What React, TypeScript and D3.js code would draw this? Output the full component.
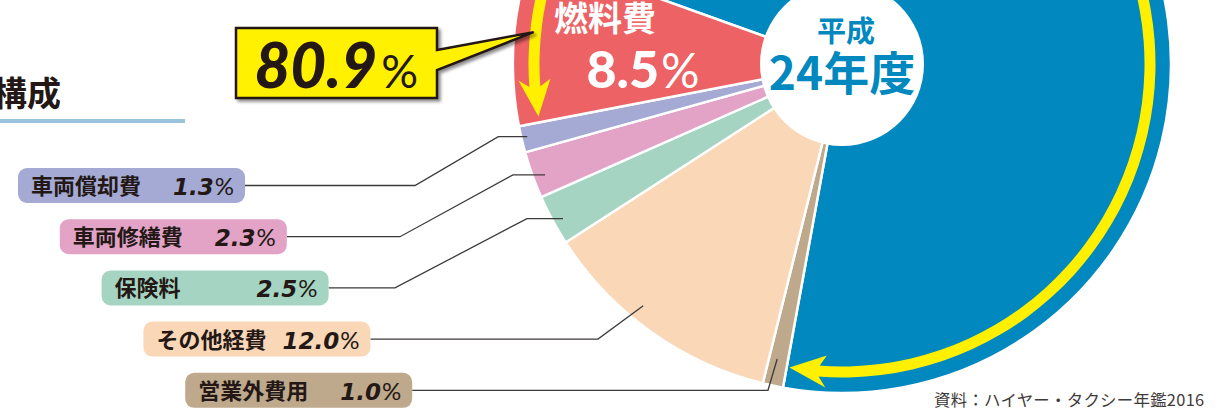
import React from 'react';
import * as d3 from 'd3';

// ---- data ----
const categories = ['人件費', '営業外費用', 'その他経費', '保険料', '車両修繕費', '車両償却費', '燃料費'];
const values = [72.4, 1.0, 12.0, 2.5, 2.3, 1.3, 8.5];
const colors = ['#0088bf', '#bea98c', '#f9d7b7', '#a5d5c2', '#e2a3c6', '#a4aad4', '#ec6265'];
const labelCategories = ['車両償却費', '車両修繕費', '保険料', 'その他経費', '営業外費用'];
const highlightCategories = ['人件費', '燃料費'];
const yearLine1 = '平成';
const yearLine2 = '24年度';
const titleText = '構成';
const sourceText = '資料：ハイヤー・タクシー年鑑2016';

// ---- layout ----
const W = 1226, H = 412;
const cx = 842, cy = 64, R = 329, holeR = 82;
const startDeg = -70.3;
const CJK = "'Noto Sans CJK JP', 'Noto Sans', sans-serif";
const NUM = "'Lato', 'Noto Sans', sans-serif";
const NUM2 = "'DejaVu Sans', 'Noto Sans', sans-serif";
const rad = (d: number) => (d * Math.PI) / 180;
const toXY = (r: number, a: number): [number, number] => [cx + r * Math.sin(a), cy - r * Math.cos(a)];

const box0 = { x: 18, y: 168, dx: 41.8, dy: 51.2, w: 227, h: 35 };
const leaderEndR = [323, 317, 319, 313, 302];
const leaderFrac = [0.55, 0.41, 0.43, 0.59, 0.57];
const leaderElbow1 = [415, 400, 395, 598, 768];
const leaderTail = [29, 32, 36, 0, 0];

export default function App() {
  const pie = d3
    .pie<number>()
    .sort(null)
    .value((d) => d)
    .startAngle(rad(startDeg))
    .endAngle(rad(startDeg) + 2 * Math.PI);
  const arcs = pie(values);
  const arcGen = d3.arc<d3.PieArcDatum<number>>().innerRadius(0).outerRadius(R);

  // arrow spanning the highlighted categories (燃料費 + 人件費)
  const redArc = arcs[categories.indexOf('燃料費')];
  const blueArc = arcs[categories.indexOf('人件費')];
  const hlTotal = highlightCategories.reduce((s, c) => s + values[categories.indexOf(c)], 0);
  const r0 = 308, sw = 5.5, L = 37, Wd = 16, notch = 7;
  const redTip = redArc.startAngle + rad(1.1);
  const blueTip = blueArc.endAngle + 2 * Math.PI - rad(0.5);
  const head = (tipA: number, dir: number) => {
    const aBase = tipA + (dir * L) / r0;
    const aNotch = tipA + (dir * (L - notch)) / r0;
    const pts = [
      toXY(r0, tipA),
      toXY(r0 + Wd, aBase),
      toXY(r0 + sw, aNotch),
      toXY(r0 - sw, aNotch),
      toXY(r0 - Wd, aBase),
    ];
    return 'M' + pts.map((p) => p.join(',')).join('L') + 'Z';
  };
  const shaft = d3.arc()({
    innerRadius: r0 - sw,
    outerRadius: r0 + sw,
    startAngle: redTip + (L - notch) / r0 - 0.003,
    endAngle: blueTip - (L - notch) / r0 + 0.003,
  } as any) as string;

  const calloutTip = toXY(310, rad(275.9));

  return (
    <svg width={W} height={H} style={{ position: 'absolute', left: 0, top: 0, display: 'block', background: '#fff' }}>
      <defs>
        <filter id="sh" x="-10%" y="-10%" width="130%" height="140%">
          <feDropShadow dx="2.5" dy="2.5" stdDeviation="1.5" floodColor="#000" floodOpacity="0.45" />
        </filter>
      </defs>

      {/* title */}
      <text x={61} y={106} textAnchor="end" fontFamily={CJK} fontWeight={700} fontSize={34} fill="#231815">
        {titleText}
      </text>
      <rect x={0} y={119} width={185} height={4} fill="#9bc3dc" />

      {/* pie */}
      <g transform={`translate(${cx},${cy})`}>
        {arcs.map((a, i) => (
          <path key={categories[i]} d={arcGen(a) as string} fill={colors[i]} stroke="#fff" strokeWidth={2.5} strokeLinejoin="round" />
        ))}
        <circle r={holeR} fill="#fff" />
        <path d={shaft} fill="#fff000" />
      </g>
      <path d={head(redTip, 1)} fill="#fff000" />
      <path d={head(blueTip, -1)} fill="#fff000" />

      {/* year label in hole */}
      <text x={846} y={42} textAnchor="middle" fontFamily={CJK} fontWeight={700} fontSize={29} fill="#0088bf">
        {yearLine1}
      </text>
      <text x={842} y={90} textAnchor="middle" fontFamily={CJK} fontWeight={700} fontSize={46} fill="#0088bf">
        {yearLine2}
      </text>

      {/* fuel label */}
      <text x={605} y={31} textAnchor="middle" fontFamily={CJK} fontWeight={700} fontSize={34} fill="#fff">
        {categories[6]}
      </text>
      <text x={643} y={88} textAnchor="middle" fontFamily={NUM} fill="#fff">
        <tspan fontWeight={900} fontSize={52}>{values[6].toFixed(1)}</tspan>
        <tspan dx={2} fontWeight={400} fontSize={48}>%</tspan>
      </text>

      {/* callout */}
      <path
        d={`M236,28H437V50L${calloutTip[0]},${calloutTip[1]}L437,70V98H236Z`}
        fill="#fff100"
        stroke="#231815"
        strokeWidth={2.5}
        strokeLinejoin="miter"
        filter="url(#sh)"
      />
      <text x={418} y={88} textAnchor="end" fontFamily={NUM} fill="#231815">
        <tspan fontWeight={900} fontStyle="italic" fontSize={62}>{hlTotal.toFixed(1)}</tspan>
        <tspan dx={4} fontWeight={400} fontSize={46}>%</tspan>
      </text>

      {/* labels + leaders */}
      {labelCategories.map((c, j) => {
        const i = categories.indexOf(c);
        const a = arcs[i];
        const bx = box0.x + j * box0.dx;
        const by = box0.y + j * box0.dy;
        const ly = by + box0.h / 2;
        const ang = a.startAngle + leaderFrac[j] * (a.endAngle - a.startAngle);
        const end = toXY(leaderEndR[j], ang);
        const pts: [number, number][] = [[bx + box0.w, ly], [leaderElbow1[j], ly]];
        if (leaderTail[j] > 0) pts.push([end[0] - leaderTail[j], end[1]]);
        pts.push(end);
        return (
          <g key={c}>
            <path d={d3.line()(pts) as string} fill="none" stroke="#3e3a39" strokeWidth={1.3} />
            <rect x={bx} y={by} width={box0.w} height={box0.h} rx={9} fill={colors[i]} />
            <text x={bx + 13} y={by + 26} fontFamily={CJK} fontWeight={700} fontSize={22} fill="#231815">
              {c}
            </text>
            <text x={bx + box0.w - 11} y={by + 27} textAnchor="end" fill="#231815">
              <tspan fontFamily={NUM2} fontWeight={700} fontStyle="italic" fontSize={23}>{values[i].toFixed(1)}</tspan>
              <tspan dx={1} fontFamily={NUM} fontWeight={400} fontSize={24}>%</tspan>
            </text>
          </g>
        );
      })}

      {/* source */}
      <text x={934} y={406} fontFamily={CJK} fontSize={16.4} letterSpacing={0.3} fill="#3e3a39">
        {sourceText}
      </text>
    </svg>
  );
}
